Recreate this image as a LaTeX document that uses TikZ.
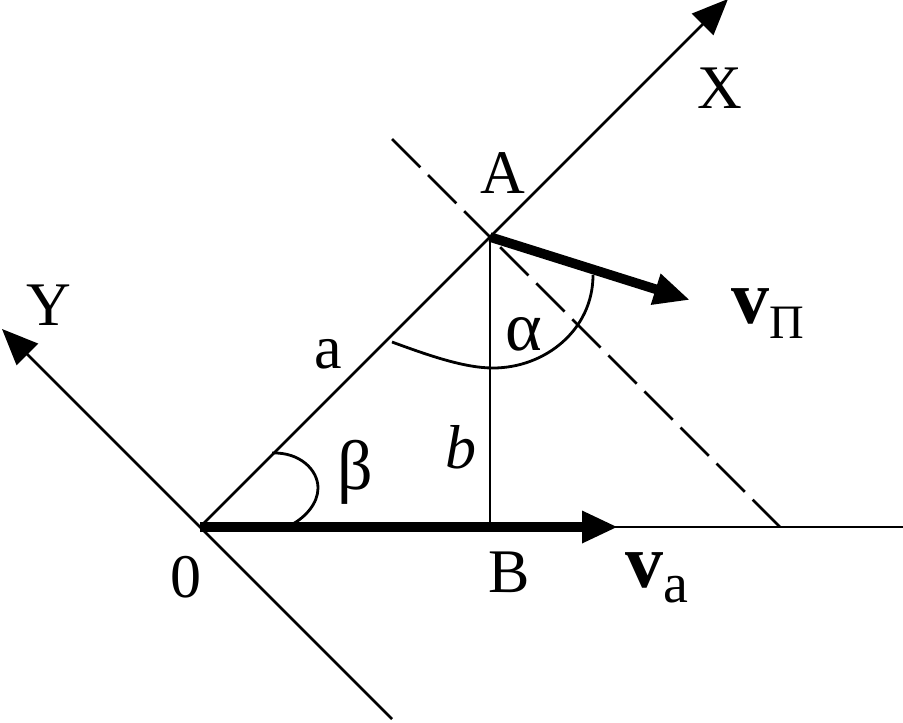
\documentclass[tikz,border=0pt]{standalone}
\usepackage{fontspec}
\setmainfont{Liberation Serif}
\usetikzlibrary{arrows.meta}
\begin{document}
\begin{tikzpicture}[x=0.5pt,y=-0.5pt,
  thinline/.style={line width=1.4pt},
  boldline/.style={line width=4.8pt},
  tipped/.style={-{Triangle[length=18pt,width=15pt]}},
  lbl/.style={inner sep=0pt, anchor=base, font=\fontsize{31}{36}\selectfont},
  glbl/.style={inner sep=0pt, anchor=base, font=\fontsize{35}{40}\selectfont},
  vlbl/.style={inner sep=0pt, anchor=base west},
]
\useasboundingbox (0,0) rectangle (903,722);
% points
\coordinate (O) at (200,527);
\coordinate (A) at (490,237);
\coordinate (B) at (490,527);
\coordinate (Xtip) at (728,-1);
\coordinate (Ytip) at (2,329);
\coordinate (Yend) at (392,719);
\coordinate (Hend) at (903,527);
\coordinate (Vatip) at (618,527);
\coordinate (Vptip) at (690,300);
\coordinate (Dtop) at (392,139);
\coordinate (Dbot) at (780,527);
% axes
\draw[thinline,tipped] (O) -- (Xtip);
\draw[thinline,tipped] (Yend) -- (Ytip);
\draw[thinline] (O) -- (Hend);
\draw[thinline] (A) -- (B);
\draw[thinline,dash pattern=on 20pt off 5.5pt] (Dtop) -- (Dbot);
% angle arcs
\draw[thinline] (392,342) .. controls (430,356) and (465,368) .. (493,368)
                .. controls (545,368) and (593,330) .. (593,275);
\draw[thinline] (272,453) .. controls (300,452) and (318,470) .. (318,488)
                .. controls (318,503) and (306,517) .. (291,525);
% velocity vectors
\draw[boldline,tipped] (O) -- (Vatip);
\draw[boldline,tipped] (A) -- (Vptip);
% labels
\node[lbl] (lX) at (720,108) {X};
\node[lbl] (lA) at (503,193) {A};
\node[lbl] (lY) at (49,325) {Y};
\node[lbl] (la) at (328,368) {a};
\node[glbl] (lalpha) at (524,350) {α};
\node[lbl] (lb) at (461,468) {\itshape b};
\node[glbl] (lbeta) at (355,489) {β};
\node[lbl] (lB) at (509,592) {B};
\node[lbl] (l0) at (186,597) {0};
\node[vlbl] (lvp) at (731,323) {\fontsize{38}{40}\selectfont\textbf{v}\raisebox{-7.5pt}{\fontsize{24}{26}\selectfont П}};
\node[vlbl] (lva) at (625,587) {\fontsize{38}{40}\selectfont\textbf{v}\raisebox{-7.5pt}{\fontsize{28}{30}\selectfont a}};
\end{tikzpicture}
\end{document}
